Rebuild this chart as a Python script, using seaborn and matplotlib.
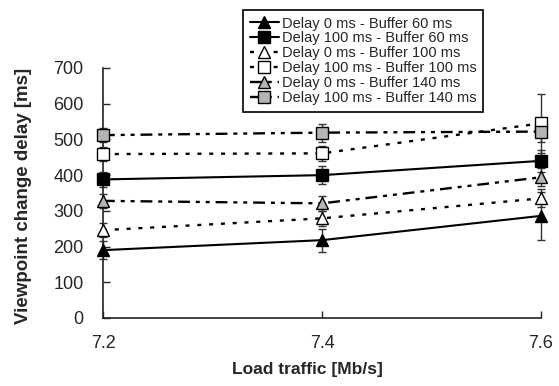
import numpy as np
import pandas as pd
import seaborn as sns
import matplotlib
matplotlib.use("Agg")
import matplotlib.pyplot as plt

# data
load = [7.2, 7.4, 7.6]
labels = ["Delay 0 ms - Buffer 60 ms", "Delay 100 ms - Buffer 60 ms",
          "Delay 0 ms - Buffer 100 ms", "Delay 100 ms - Buffer 100 ms",
          "Delay 0 ms - Buffer 140 ms", "Delay 100 ms - Buffer 140 ms"]
d0_b60 = [190, 218, 286]
d100_b60 = [388, 400, 440]
d0_b100 = [246, 279, 335]
d100_b100 = [459, 461, 545]
d0_b140 = [328, 321, 394]
d100_b140 = [512, 519, 522]
err_d0_b60 = [25, 32, 68]
err_d100_b60 = [20, 25, 30]
err_d0_b100 = [20, 20, 25]
err_d100_b100 = [20, 20, 82]
err_d0_b140 = [20, 20, 25]
err_d100_b140 = [20, 25, 30]

series = [d0_b60, d100_b60, d0_b100, d100_b100, d0_b140, d100_b140]
errors = [err_d0_b60, err_d100_b60, err_d0_b100, err_d100_b100, err_d0_b140, err_d100_b140]

dotted = (0, (1.7, 3.3))
dashdot = (0, (5, 2.5, 1.7, 2.5, 1.7, 2.5))
styles = [
    dict(marker="^", mfc="black", ls="-", lw=1.5, ms=9),
    dict(marker="s", mfc="black", ls="-", lw=1.5, ms=8),
    dict(marker="^", mfc="white", ls=dotted, lw=1.7, ms=9),
    dict(marker="s", mfc="white", ls=dotted, lw=1.7, ms=8),
    dict(marker="^", mfc="#b5b5b5", ls=dashdot, lw=1.7, ms=9),
    dict(marker="s", mfc="#b5b5b5", ls=dashdot, lw=1.7, ms=8),
]

sns.set_style("ticks")
plt.rcParams["font.family"] = ["Liberation Sans", "DejaVu Sans"]

fig = plt.figure(figsize=(5.59, 3.86), dpi=100)
ax = fig.add_axes([103 / 559, 1 - 318 / 386, 438 / 559, 250 / 386])

for vals, err, lab, st in zip(series, errors, labels, styles):
    ax.errorbar(load, vals, yerr=err, fmt="none", ecolor="#333333",
                elinewidth=1, capsize=3, clip_on=False, zorder=2)
    df = pd.DataFrame({"load": load, "delay": vals})
    sns.lineplot(data=df, x="load", y="delay", ax=ax, color="black",
                 marker=st["marker"], markerfacecolor=st["mfc"],
                 markeredgecolor="black", markeredgewidth=1,
                 markersize=st["ms"], linestyle=st["ls"], linewidth=st["lw"],
                 label=lab, clip_on=False, zorder=3)

ax.set_xlim(7.2, 7.6)
ax.set_ylim(0, 700)
ax.set_xticks(load)
ax.set_xticklabels(["7.2", "7.4", "7.6"])
ax.set_yticks(np.arange(0, 701, 100))
ax.tick_params(direction="in", length=5, width=1, labelsize=13)
ax.tick_params(axis="x", pad=12)
ax.tick_params(axis="y", pad=14)
sns.despine(ax=ax)
for s in ["left", "bottom"]:
    ax.spines[s].set_linewidth(1.2)
    ax.spines[s].set_color("#222222")

ax.set_xlabel("Load traffic [Mb/s]", fontsize=12.5, fontweight="bold")
ax.set_ylabel("Viewpoint change delay [ms]", fontsize=13.5, fontweight="bold")
ax.xaxis.set_label_coords(0.466, -0.176)
ax.yaxis.set_label_coords(-0.162, 0.49)

leg = ax.legend(loc="upper left", bbox_to_anchor=(243 / 559, 1 - 10 / 386),
                bbox_transform=fig.transFigure, frameon=True, fancybox=False,
                edgecolor="black", fontsize=10.5, labelspacing=0.06,
                handlelength=2.0, handletextpad=0.2, borderpad=0.45,
                borderaxespad=0)
leg.get_frame().set_linewidth(1.2)
leg.get_frame().set_alpha(1)

fig.savefig("out.png", dpi=100)
